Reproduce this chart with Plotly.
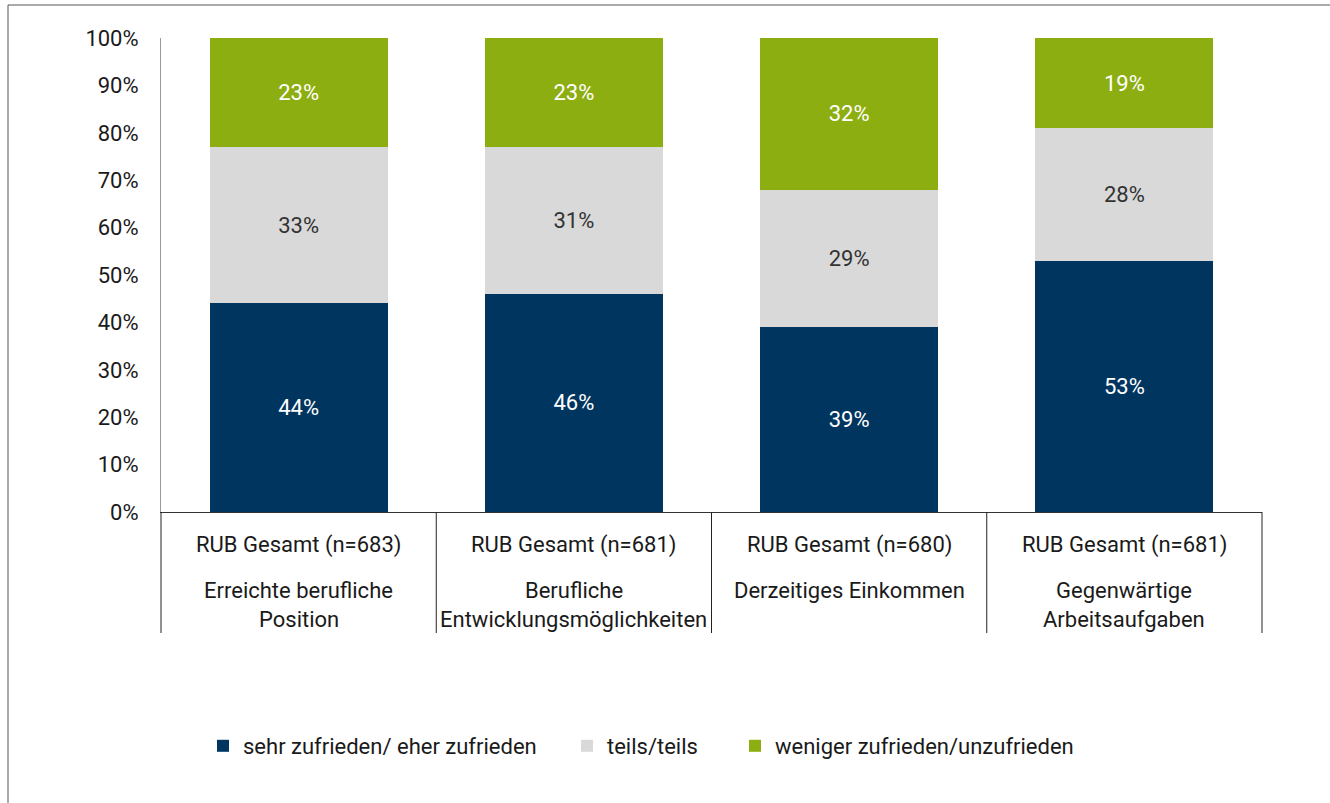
import plotly.graph_objects as go

categories = ["Erreichte berufliche\nPosition", "Berufliche\nEntwicklungsmöglichkeiten",
              "Derzeitiges Einkommen", "Gegenwärtige\nArbeitsaufgaben"]
sample_labels = ["RUB Gesamt (n=683)", "RUB Gesamt (n=681)", "RUB Gesamt (n=680)", "RUB Gesamt (n=681)"]
series_names = ["sehr zufrieden/ eher zufrieden", "teils/teils", "weniger zufrieden/unzufrieden"]
sehr_zufrieden = [44, 46, 39, 53]
teils = [33, 31, 29, 28]
weniger = [23, 23, 32, 19]
y_ticks = [0, 10, 20, 30, 40, 50, 60, 70, 80, 90, 100]
y_tick_labels = [f"{v}%" for v in y_ticks]

colors = ["#003560", "#D9D9D9", "#8DAE10"]
text_colors = ["#FFFFFF", "#333333", "#FFFFFF"]
FONT = "Roboto, Arial, sans-serif"
FS = 22

W, H = 1330, 803
L, R, T, B = 161, 68, 38, 291
plot_w = W - L - R
plot_h = H - T - B


def py(pix):
    return (H - B - pix) / plot_h


def px(pix):
    return (pix - L) / plot_w


x_ids = list(range(len(categories)))
legend_keys = ["legend", "legend2", "legend3"]
legend_sq_left = [219, 583, 751]

fig = go.Figure()
for name, vals, col, tcol, lk in zip(series_names, [sehr_zufrieden, teils, weniger], colors, text_colors, legend_keys):
    fig.add_trace(go.Bar(
        x=x_ids, y=vals, name=name, legend=lk,
        marker=dict(color=col, line=dict(width=0)),
        text=[f"{v}%" for v in vals], textposition="inside",
        insidetextanchor="middle", textangle=0,
        textfont=dict(color=tcol, size=FS, family=FONT),
        hoverinfo="skip",
    ))

shapes = []
shapes.append(dict(type="rect", xref="paper", yref="paper",
                   x0=px(8), x1=px(1345), y0=py(820), y1=py(5),
                   line=dict(color="#555555", width=1), fillcolor="rgba(0,0,0,0)", layer="below"))
n = len(categories)
for k in range(n + 1):
    shapes.append(dict(type="line", xref="x domain", yref="paper",
                       x0=k / n, x1=k / n, y0=0, y1=py(633),
                       line=dict(color="#222222", width=1)))

annotations = []
for i, (cat, lab) in enumerate(zip(categories, sample_labels)):
    annotations.append(dict(x=i, xref="x", y=py(545), yref="paper", text=lab,
                            showarrow=False, xanchor="center", yanchor="middle",
                            font=dict(size=FS, family=FONT, color="#1a1a1a")))
    for j, line in enumerate(cat.split("\n")):
        annotations.append(dict(x=i, xref="x", y=py(590 + 29 * j), yref="paper", text=line,
                                showarrow=False, xanchor="center", yanchor="middle",
                                font=dict(size=FS, family=FONT, color="#1a1a1a")))

legend_common = dict(orientation="h", xanchor="left", yanchor="middle", y=py(746),
                     font=dict(size=FS, family=FONT, color="#1a1a1a"),
                     itemwidth=30, bgcolor="rgba(0,0,0,0)", borderwidth=0)
layout_legends = {}
for lk, sq in zip(legend_keys, legend_sq_left):
    layout_legends[lk] = dict(x=px(sq - 16), **legend_common)

fig.update_layout(
    width=W, height=H,
    margin=dict(l=L, r=R, t=T, b=B, autoexpand=False),
    barmode="stack", bargap=0.353,
    plot_bgcolor="white", paper_bgcolor="white",
    font=dict(family=FONT, size=FS, color="#1a1a1a"),
    shapes=shapes, annotations=annotations,
    showlegend=True,
    xaxis=dict(range=[-0.5, n - 0.5], showticklabels=False, showgrid=False, zeroline=False,
               showline=True, linecolor="#333333", linewidth=1, ticks=""),
    yaxis=dict(range=[0, 100], tickvals=y_ticks, ticktext=y_tick_labels, showgrid=False, zeroline=False,
               showline=True, linecolor="#999999", linewidth=1, ticks="",
               ticklabelstandoff=17, tickfont=dict(size=FS, family=FONT, color="#1a1a1a")),
    **layout_legends,
)

fig.write_html("out.html", config={"displayModeBar": False},
               post_script="document.body.style.margin='0';document.body.style.overflow='hidden';")
